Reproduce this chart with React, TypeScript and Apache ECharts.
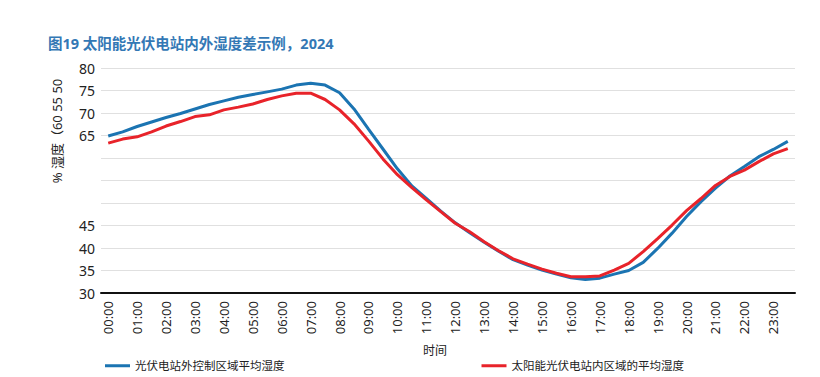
import React, { useEffect, useRef } from "react";
import * as echarts from "echarts";

const titleText = "图19 太阳能光伏电站内外湿度差示例，2024";
const yAxisTitle = "% 湿度（60 55 50";
const xAxisTitle = "时间";
const seriesNames = ["光伏电站外控制区域平均湿度", "太阳能光伏电站内区域的平均湿度"];

const times = [
  "00:00", "00:30", "01:00", "01:30", "02:00", "02:30", "03:00", "03:30",
  "04:00", "04:30", "05:00", "05:30", "06:00", "06:30", "07:00", "07:30",
  "08:00", "08:30", "09:00", "09:30", "10:00", "10:30", "11:00", "11:30",
  "12:00", "12:30", "13:00", "13:30", "14:00", "14:30", "15:00", "15:30",
  "16:00", "16:30", "17:00", "17:30", "18:00", "18:30", "19:00", "19:30",
  "20:00", "20:30", "21:00", "21:30", "22:00", "22:30", "23:00", "23:30",
];

const outsideHumidity = [
  64.9, 65.8, 67.0, 68.0, 69.0, 69.9, 70.9, 71.9,
  72.7, 73.5, 74.1, 74.7, 75.3, 76.2, 76.6, 76.2,
  74.5, 70.9, 66.4, 62.0, 57.6, 53.8, 51.0, 48.2,
  45.6, 43.4, 41.3, 39.3, 37.4, 36.2, 35.1, 34.2,
  33.4, 33.0, 33.3, 34.2, 35.0, 36.8, 39.9, 43.3,
  47.0, 50.3, 53.3, 56.0, 58.1, 60.3, 61.9, 63.7,
];

const insideHumidity = [
  63.3, 64.2, 64.7, 65.8, 67.1, 68.1, 69.2, 69.6,
  70.7, 71.3, 72.0, 73.0, 73.8, 74.4, 74.4, 73.0,
  70.7, 67.6, 63.8, 59.8, 56.3, 53.4, 50.7, 48.1,
  45.5, 43.6, 41.4, 39.4, 37.6, 36.4, 35.3, 34.4,
  33.6, 33.6, 33.8, 35.1, 36.6, 39.2, 42.1, 45.1,
  48.3, 51.0, 53.9, 55.9, 57.3, 59.2, 60.9, 62.1,
];

const hiddenYLabels = [50, 55, 60];

const FONT = "'Noto Sans', 'Noto Sans CJK SC', sans-serif";

export default function App() {
  const ref = useRef<HTMLDivElement>(null);
  useEffect(() => {
    if (!ref.current) return;
    const chart = echarts.init(ref.current, null, { renderer: "svg" });
    chart.setOption({
      animation: false,
      backgroundColor: "#ffffff",
      textStyle: { fontFamily: FONT },
      title: {
        text: titleText,
        left: 43,
        top: 31,
        textStyle: { fontSize: 14.5, fontWeight: "bold", color: "#3378b5", fontFamily: FONT },
      },
      grid: { left: 101, right: 25, top: 68, bottom: 84 },
      legend: {
        top: 355,
        left: 100,
        icon: "rect",
        itemWidth: 25,
        itemHeight: 3,
        itemGap: 197,
        textStyle: { fontSize: 11.5, color: "#222", fontFamily: FONT },
        data: seriesNames,
      },
      xAxis: {
        type: "category",
        data: times,
        boundaryGap: true,
        axisLine: { lineStyle: { color: "#111", width: 2 } },
        axisTick: { show: false },
        axisLabel: {
          interval: 1,
          rotate: 90,
          margin: 8,
          fontSize: 13,
          color: "#222",
          fontFamily: FONT,
        },
        splitLine: { show: false },
      },
      yAxis: {
        type: "value",
        min: 30,
        max: 80,
        interval: 5,
        axisLine: { show: false },
        axisTick: { show: false },
        axisLabel: {
          margin: 6,
          fontSize: 14,
          color: "#222",
          fontFamily: FONT,
          formatter: (v: number) => (hiddenYLabels.includes(v) ? "" : String(v)),
        },
        splitLine: { lineStyle: { color: "#e0e0e0", width: 1 } },
      },
      graphic: [
        {
          type: "text",
          x: 57,
          y: 131,
          rotation: Math.PI / 2,
          style: {
            text: yAxisTitle,
            fontSize: 13,
            fill: "#222",
            fontFamily: FONT,
            align: "center",
            verticalAlign: "middle",
          },
        },
        {
          type: "text",
          x: 435,
          y: 350,
          style: {
            text: xAxisTitle,
            fontSize: 12,
            fill: "#222",
            fontFamily: FONT,
            align: "center",
            verticalAlign: "middle",
          },
        },
      ],
      series: [
        {
          name: seriesNames[0],
          type: "line",
          data: outsideHumidity,
          showSymbol: false,
          symbol: "none",
          lineStyle: { color: "#1b74b2", width: 3 },
          itemStyle: { color: "#1b74b2" },
          z: 2,
        },
        {
          name: seriesNames[1],
          type: "line",
          data: insideHumidity,
          showSymbol: false,
          symbol: "none",
          lineStyle: { color: "#e8232a", width: 3 },
          itemStyle: { color: "#e8232a" },
          z: 3,
        },
      ],
    });
    return () => chart.dispose();
  }, []);
  return (
    <div
      ref={ref}
      style={{ position: "fixed", left: 0, top: 0, width: 820, height: 377 }}
    />
  );
}
